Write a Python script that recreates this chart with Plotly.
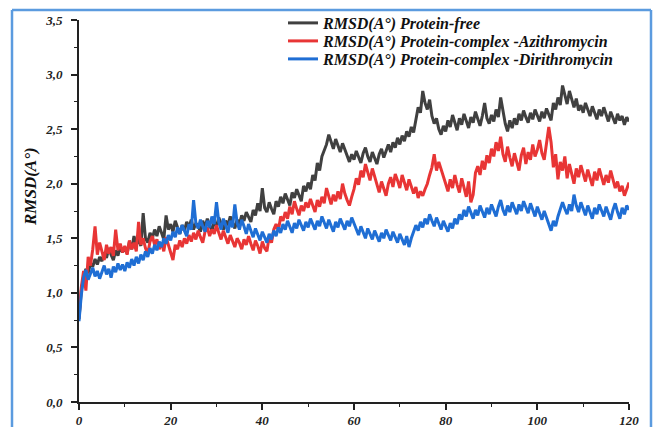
import numpy as np
import plotly.graph_objects as go

# time axis (ns), 0.5 ns sampling
time_ns = [i * 0.5 for i in range(241)]

rmsd_free = [
    0.76, 1.02, 1.15, 1.22, 1.18, 1.27, 1.24, 1.31, 1.26, 1.33,
    1.29, 1.37, 1.32, 1.41, 1.35, 1.30, 1.39, 1.34, 1.43, 1.37,
    1.42, 1.36, 1.47, 1.40, 1.52, 1.44, 1.49, 1.43, 1.73, 1.50,
    1.46, 1.55, 1.50, 1.58, 1.52, 1.61, 1.55, 1.49, 1.71, 1.58,
    1.63, 1.56, 1.66, 1.59, 1.54, 1.62, 1.57, 1.65, 1.60, 1.67,
    1.58, 1.64, 1.61, 1.56, 1.66, 1.60, 1.68, 1.62, 1.57, 1.65,
    1.61, 1.69, 1.63, 1.58, 1.66, 1.62, 1.70, 1.64, 1.59, 1.67,
    1.63, 1.71, 1.66, 1.74, 1.69, 1.65, 1.76, 1.71, 1.82, 1.75,
    1.96, 1.78, 1.74, 1.83, 1.77, 1.72, 1.84, 1.79, 1.88, 1.82,
    1.91, 1.85, 1.80, 1.92, 1.87, 1.95, 1.89, 1.84, 1.98, 1.93,
    2.01, 1.95, 2.08, 2.03, 2.19, 2.12, 2.25, 2.30, 2.36, 2.45,
    2.38, 2.32, 2.41, 2.35, 2.29, 2.37, 2.31, 2.25, 2.20, 2.27,
    2.22, 2.30, 2.24, 2.19, 2.28, 2.33, 2.25, 2.20, 2.29, 2.23,
    2.18, 2.27, 2.32, 2.24, 2.30, 2.36, 2.29, 2.38, 2.33, 2.42,
    2.36, 2.44, 2.39, 2.48, 2.43, 2.52, 2.47, 2.58, 2.70, 2.65,
    2.85, 2.74, 2.68, 2.77, 2.62, 2.55, 2.60, 2.50, 2.45, 2.53,
    2.48, 2.58, 2.52, 2.63, 2.55, 2.49, 2.60, 2.54, 2.64, 2.57,
    2.51, 2.61, 2.56, 2.66, 2.59, 2.53, 2.62, 2.74, 2.60, 2.55,
    2.63, 2.57, 2.68, 2.61, 2.79, 2.66, 2.55, 2.48, 2.58, 2.51,
    2.60, 2.54, 2.64, 2.58, 2.67, 2.61, 2.56, 2.65, 2.59, 2.68,
    2.62, 2.57, 2.66, 2.60, 2.69, 2.63, 2.58, 2.74, 2.68, 2.79,
    2.72, 2.90, 2.80, 2.73, 2.85, 2.76, 2.70, 2.78, 2.67, 2.72,
    2.65, 2.74, 2.68, 2.62, 2.71, 2.64, 2.59, 2.68, 2.62, 2.70,
    2.63, 2.57, 2.66, 2.60, 2.55, 2.64, 2.58, 2.62, 2.54, 2.61,
    2.57,
]

rmsd_azithro = [
    0.78, 1.05, 1.20, 1.02, 1.33, 1.25, 1.40, 1.61, 1.35, 1.46,
    1.38, 1.30, 1.44, 1.36, 1.42, 1.34, 1.58, 1.39, 1.45, 1.37,
    1.43, 1.35, 1.48, 1.40, 1.46, 1.38, 1.65, 1.44, 1.50, 1.41,
    1.36, 1.47, 1.52, 1.44, 1.49, 1.40, 1.46, 1.38, 1.51, 1.43,
    1.37, 1.30, 1.44, 1.40, 1.48, 1.42, 1.50, 1.45, 1.53, 1.47,
    1.55, 1.49, 1.57, 1.51, 1.46, 1.56, 1.60, 1.52, 1.58, 1.54,
    1.62, 1.55, 1.49, 1.57, 1.51, 1.45, 1.53, 1.48, 1.42, 1.50,
    1.46, 1.40, 1.49, 1.44, 1.52, 1.45, 1.39, 1.48, 1.43, 1.36,
    1.47, 1.41, 1.38, 1.52, 1.46, 1.58, 1.63, 1.57, 1.70, 1.66,
    1.74, 1.68, 1.79, 1.72, 1.84, 1.77, 1.71, 1.80, 1.75, 1.83,
    1.78, 1.86, 1.80, 1.74, 1.85, 1.79, 1.88, 1.82, 1.96, 1.87,
    1.81, 1.90, 1.84, 1.93, 1.86, 2.00, 1.91, 1.85, 1.80, 1.88,
    1.95, 2.05, 1.99, 2.12, 2.06, 2.18, 2.10, 2.03, 2.14, 2.07,
    1.98, 1.92, 2.02, 1.95, 1.89, 2.00, 2.06, 1.97, 2.09, 2.03,
    1.96, 2.08, 2.01, 1.94, 2.04, 1.98, 1.91, 1.97, 1.87, 1.93,
    1.89, 1.95, 2.00, 2.08, 2.15, 2.27, 2.12, 2.20, 2.14, 2.06,
    2.00, 1.93, 2.04, 1.96, 2.08, 1.99, 1.92, 2.05, 1.97, 1.88,
    2.02, 1.83, 1.90, 2.10, 2.16, 2.08, 2.21, 2.13, 2.26, 2.19,
    2.32, 2.25, 2.38, 2.30, 2.43, 2.27, 2.20, 2.34, 2.24, 2.16,
    2.28, 2.21, 2.12, 2.26, 2.33, 2.18, 2.29, 2.22, 2.36, 2.25,
    2.31, 2.40, 2.28, 2.22, 2.35, 2.52, 2.38, 2.15, 2.27, 2.04,
    2.20, 2.12, 2.25, 2.05, 2.18, 2.09, 2.00, 2.14, 2.06, 2.17,
    2.10, 2.02, 2.13, 2.05, 1.98, 2.11, 2.03, 2.14, 2.07, 1.99,
    2.08, 2.01, 2.12, 2.04, 1.96, 2.02, 1.93, 1.98, 1.89, 1.95,
    2.01,
]

rmsd_dirithro = [
    0.74, 0.98, 1.14, 1.21, 1.12, 1.18, 1.23, 1.15, 1.20, 1.13,
    1.19, 1.25, 1.17, 1.22, 1.14, 1.24, 1.19, 1.27, 1.21, 1.26,
    1.20, 1.28, 1.23, 1.31, 1.25, 1.33, 1.27, 1.35, 1.30, 1.38,
    1.33, 1.41, 1.36, 1.44, 1.39, 1.47, 1.42, 1.50, 1.45, 1.53,
    1.48, 1.56, 1.51, 1.60, 1.54, 1.62, 1.57, 1.52, 1.63, 1.58,
    1.85, 1.64, 1.59, 1.67, 1.61, 1.56, 1.66, 1.60, 1.70, 1.63,
    1.83, 1.65, 1.58, 1.68, 1.62, 1.55, 1.66, 1.60, 1.81, 1.64,
    1.58, 1.67, 1.61, 1.54, 1.63, 1.57, 1.51, 1.59, 1.53, 1.48,
    1.56, 1.50, 1.46, 1.54, 1.49, 1.57, 1.52, 1.60, 1.55, 1.63,
    1.58, 1.66, 1.61, 1.55, 1.64, 1.59, 1.67, 1.62, 1.57, 1.65,
    1.60, 1.68, 1.63, 1.58, 1.66, 1.61, 1.70, 1.64, 1.59, 1.67,
    1.62, 1.56, 1.65, 1.60, 1.68, 1.63, 1.58, 1.66, 1.61, 1.69,
    1.64, 1.58, 1.53, 1.61, 1.56, 1.50, 1.59, 1.54, 1.49, 1.57,
    1.52, 1.47, 1.55, 1.50, 1.58, 1.53, 1.48, 1.56, 1.51, 1.46,
    1.54, 1.49, 1.44, 1.52, 1.42, 1.50, 1.56, 1.62, 1.57, 1.65,
    1.60, 1.68, 1.63, 1.72, 1.66, 1.61, 1.69, 1.64, 1.58, 1.66,
    1.61, 1.56, 1.64, 1.59, 1.68, 1.63, 1.72, 1.67, 1.76, 1.70,
    1.79, 1.73, 1.68, 1.76, 1.71, 1.80, 1.74, 1.69, 1.78, 1.72,
    1.81, 1.75, 1.70, 1.79, 1.85, 1.76, 1.71, 1.80, 1.74, 1.83,
    1.77, 1.72, 1.81, 1.75, 1.84, 1.78, 1.73, 1.82, 1.76, 1.70,
    1.79, 1.73, 1.67, 1.75, 1.69, 1.62, 1.57, 1.66, 1.61, 1.70,
    1.76, 1.83, 1.77, 1.72, 1.81, 1.75, 1.90, 1.80, 1.74, 1.83,
    1.77, 1.71, 1.80, 1.74, 1.68, 1.78, 1.72, 1.81, 1.75, 1.70,
    1.79, 1.73, 1.67, 1.76, 1.82, 1.74, 1.68, 1.78, 1.72, 1.80,
    1.76,
]

series_names = [
    "RMSD(A°) Protein-free",
    "RMSD(A°) Protein-complex -Azithromycin",
    "RMSD(A°) Protein-complex -Dirithromycin",
]
series_colors = ["#404040", "#e83535", "#1f6ed4"]
series_values = [rmsd_free, rmsd_azithro, rmsd_dirithro]

x_tick_vals = [0, 20, 40, 60, 80, 100, 120]
y_tick_vals = [0.0, 0.5, 1.0, 1.5, 2.0, 2.5, 3.0, 3.5]
y_title = "RMSD(A°)"

FONT = "Liberation Serif, Times New Roman, serif"
W, H = 653, 427
ML, MR, MT, MB = 79, 24, 20, 25

legend_ids = ["legend", "legend2", "legend3"]

fig = go.Figure()
for name, color, vals, lid in zip(series_names, series_colors, series_values, legend_ids):
    fig.add_trace(go.Scatter(
        x=time_ns, y=vals, mode="lines", name=name, legend=lid,
        line=dict(color=color, width=3),
    ))

axis_common = dict(
    showgrid=False, zeroline=False, showline=True, linecolor="#222",
    linewidth=1.6, ticks="outside", tickcolor="#222", tickwidth=1.6,
    ticklen=6, mirror=False,
    minor=dict(ticks="outside", ticklen=3, tickcolor="#222", tickwidth=1.4),
)

fig.update_xaxes(
    range=[0, 120], tickvals=x_tick_vals,
    tickfont=dict(family=FONT, size=13, color="#222", style="italic", weight="bold"),
    minor_dtick=10, **axis_common,
)
fig.update_yaxes(
    range=[0, 3.5], tickvals=y_tick_vals, tickformat=".1f",
    tickfont=dict(family=FONT, size=13, color="#222", style="italic", weight="bold"),
    minor_dtick=0.25, ticklabelstandoff=6,
    **axis_common,
)


def legend_style(top_px):
    return dict(
        xref="container", yref="container",
        x=283 / W, y=1 - top_px / H, xanchor="left", yanchor="top",
        bgcolor="rgba(0,0,0,0)", borderwidth=0,
        font=dict(family=FONT, size=16, color="#111", style="italic", weight="bold"),
        itemwidth=30,
    )


frame_color = "#5b9bdf"
fig.update_layout(
    width=W, height=H,
    margin=dict(l=ML, r=MR, t=MT, b=MB, autoexpand=False),
    paper_bgcolor="white", plot_bgcolor="white",
    separators=",.",
    showlegend=True,
    legend=legend_style(6),
    legend2=legend_style(24),
    legend3=legend_style(42),
    annotations=[
        dict(text=y_title, textangle=-90, xref="paper", yref="paper",
             x=(30 - ML) / (W - ML - MR), y=(H - MB - 187) / (H - MT - MB),
             xanchor="center", yanchor="middle", showarrow=False,
             font=dict(family=FONT, size=17, color="#111", style="italic", weight="bold")),
    ],
    shapes=[
        dict(type="line", xref="paper", yref="paper",
             x0=(12 - ML) / (W - ML - MR), x1=(651 - ML) / (W - ML - MR),
             y0=(H - MB - 10) / (H - MT - MB), y1=(H - MB - 10) / (H - MT - MB),
             line=dict(color=frame_color, width=2.5)),
        dict(type="line", xref="paper", yref="paper",
             x0=(12 - ML) / (W - ML - MR), x1=(12 - ML) / (W - ML - MR),
             y0=-30 / (H - MT - MB), y1=(H - MB - 10) / (H - MT - MB),
             line=dict(color=frame_color, width=2.5)),
        dict(type="line", xref="paper", yref="paper",
             x0=(651 - ML) / (W - ML - MR), x1=(651 - ML) / (W - ML - MR),
             y0=-30 / (H - MT - MB), y1=(H - MB - 10) / (H - MT - MB),
             line=dict(color=frame_color, width=2.5)),
    ],
)

fig.write_html("out.html")
